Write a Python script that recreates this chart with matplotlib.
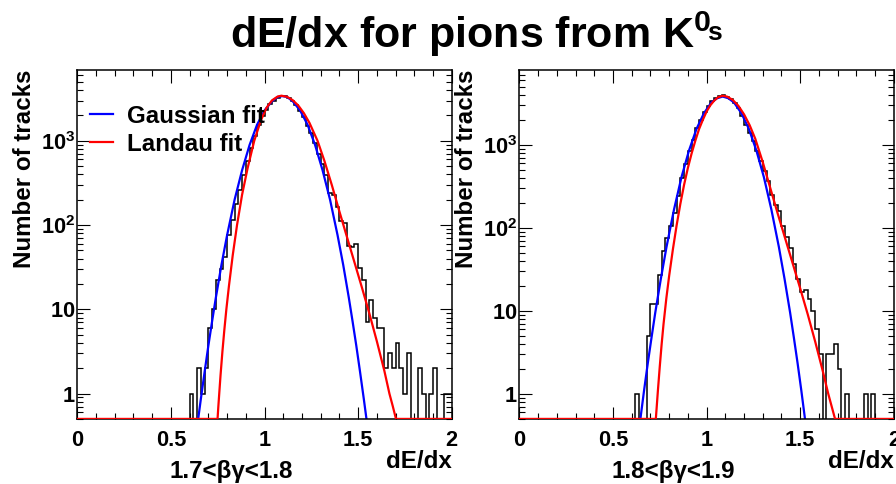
import numpy as np
import matplotlib
matplotlib.use("Agg")
import matplotlib.pyplot as plt
from matplotlib.ticker import MultipleLocator, LogLocator, NullFormatter

plt.rcParams["font.family"] = ["Liberation Sans", "DejaVu Sans"]
plt.rcParams["font.weight"] = "bold"
plt.rcParams["mathtext.fontset"] = "custom"
plt.rcParams["mathtext.rm"] = "Liberation Sans:bold"
plt.rcParams["mathtext.it"] = "Liberation Sans:bold"
plt.rcParams["mathtext.bf"] = "Liberation Sans:bold"

TITLE_MAIN = "dE/dx for pions from K$^{0}$"
TITLE_SUB = "s"
BIN_WIDTH = 0.02
N_BINS = 100
X_TICKS = [0, 0.5, 1, 1.5, 2]
X_TICK_LABELS = ["0", "0.5", "1", "1.5", "2"]
Y_TICKS = [1, 10, 100, 1000]
# trailing space keeps the plain labels in line with the "10" of 10^2, 10^3
Y_TICK_LABELS = [r"$1\;\,$", r"$10\;\,$", r"$10^{2}$", r"$10^{3}$"]
Y_MIN = 0.5

# ---- left panel: 1.7 < beta*gamma < 1.8 ----
left_label = "1.7<βγ<1.8"
left_ymax = 6918
left_first_bin = 0.60
left_counts = [1, 0, 2, 1, 2, 6, 10, 22, 30, 42,
               76, 115, 180, 260, 390, 580, 820, 1150, 1550, 1950,
               2350, 2700, 3000, 3250, 3400, 3380, 3200, 2950, 2650, 2250,
               1930, 1500, 1230, 940, 700, 530, 395, 240, 230, 165,
               112, 105, 56, 55, 60, 31, 22, 7, 13, 8,
               6, 6, 2, 3, 2, 4, 2, 1, 3, 0,
               0, 2, 1, 0, 1, 2, 0, 0, 1, 1]
# fit curves: dE/dx and log10(tracks)
left_gaus_x = [0.645, 0.66, 0.68, 0.70, 0.72, 0.74, 0.77, 0.80, 0.84, 0.88, 0.92,
               0.96, 1.00, 1.04, 1.07, 1.095, 1.12, 1.15, 1.19, 1.23, 1.27, 1.31,
               1.35, 1.39, 1.42, 1.45, 1.47, 1.49, 1.51, 1.53, 1.545]
left_gaus_log = [-0.31, -0.06, 0.26, 0.57, 0.86, 1.14, 1.53, 1.88, 2.30, 2.65, 2.95,
                 3.19, 3.36, 3.47, 3.52, 3.53, 3.52, 3.47, 3.36, 3.19, 2.95, 2.65,
                 2.30, 1.88, 1.53, 1.14, 0.86, 0.57, 0.26, -0.06, -0.31]
left_landau_x = [0.0, 0.749, 0.753, 0.758, 0.765, 0.775, 0.785, 0.796, 0.81, 0.83,
                 0.853, 0.88, 0.91, 0.945, 0.98, 1.01, 1.04, 1.07, 1.09, 1.12,
                 1.15, 1.18, 1.21, 1.24, 1.283, 1.32, 1.36, 1.40, 1.44, 1.48,
                 1.52, 1.56, 1.60, 1.64, 1.667, 1.685, 1.702, 2.0]
left_landau_log = [-0.3, -0.3, -0.16, 0.0, 0.22, 0.5, 0.75, 1.0, 1.28, 1.64,
                   2.0, 2.36, 2.68, 3.0, 3.24, 3.39, 3.48, 3.525, 3.535, 3.522,
                   3.483, 3.419, 3.328, 3.212, 3.0, 2.76, 2.47, 2.16, 1.86, 1.56,
                   1.26, 0.95, 0.62, 0.27, 0.0, -0.15, -0.3, -0.3]

# ---- right panel: 1.8 < beta*gamma < 1.9 ----
right_label = "1.8<βγ<1.9"
right_ymax = 7943
right_first_bin = 0.62
right_counts = [1, 0, 0, 5, 12, 12, 27, 52, 75, 104,
                150, 240, 400, 580, 840, 1150, 1570, 2000, 2500, 2900,
                3350, 3650, 3850, 3950, 3800, 3550, 3200, 2760, 2190, 1740,
                1383, 1097, 832, 631, 478, 363, 251, 190, 158, 104,
                77, 57, 37, 24, 17, 18, 14, 10, 6, 3,
                0, 3, 3, 4, 2, 0, 1, 0, 0, 0,
                0, 1, 0, 1]
right_gaus_x = [0.646, 0.666, 0.686, 0.706, 0.726, 0.756, 0.786, 0.826, 0.866, 0.906,
                0.946, 0.986, 1.026, 1.056, 1.086, 1.116, 1.146, 1.186, 1.226, 1.266,
                1.306, 1.346, 1.386, 1.416, 1.446, 1.466, 1.486, 1.506, 1.526]
right_gaus_log = [-0.31, 0.04, 0.37, 0.68, 0.98, 1.39, 1.77, 2.22, 2.61, 2.93,
                  3.19, 3.38, 3.51, 3.56, 3.58, 3.56, 3.51, 3.38, 3.19, 2.93,
                  2.61, 2.22, 1.77, 1.39, 0.98, 0.68, 0.37, 0.04, -0.31]
right_landau_x = [0.0, 0.729, 0.74, 0.75, 0.76, 0.77, 0.785, 0.80, 0.82, 0.84,
                  0.86, 0.88, 0.90, 0.92, 0.94, 0.96, 0.98, 1.00, 1.02, 1.04,
                  1.06, 1.085, 1.11, 1.14, 1.17, 1.20, 1.23, 1.26, 1.30, 1.34,
                  1.38, 1.42, 1.46, 1.50, 1.54, 1.58, 1.62, 1.65, 1.668, 1.686, 2.0]
right_landau_log = [-0.3, -0.3, 0.04, 0.33, 0.60, 0.84, 1.15, 1.42, 1.74, 2.03,
                    2.29, 2.52, 2.72, 2.895, 3.05, 3.19, 3.30, 3.40, 3.475, 3.53,
                    3.57, 3.59, 3.579, 3.539, 3.468, 3.366, 3.235, 3.072, 2.79, 2.48,
                    2.17, 1.87, 1.57, 1.27, 0.96, 0.63, 0.28, 0.0, -0.15, -0.3, -0.3]

TICK_SIZE = 15.7
LABEL_SIZE = 17.4
FIG_W, FIG_H = 896, 484


def draw_panel(ax, first_bin, counts, gaus_x, gaus_log, landau_x, landau_log, ymax):
    edges = np.arange(N_BINS + 1) * BIN_WIDTH
    full = np.zeros(N_BINS)
    i0 = int(round(first_bin / BIN_WIDTH))
    full[i0:i0 + len(counts)] = counts
    shown = np.where(full > 0, full, 1e-3)  # empty bins drop out of the frame
    ax.stairs(shown, edges, baseline=None, color="black", lw=1.1)
    gaus, = ax.plot(gaus_x, 10 ** np.array(gaus_log), color="#0000ff", lw=1.6)
    landau, = ax.plot(landau_x, 10 ** np.array(landau_log), color="#ff0000", lw=1.6,
                      zorder=3)

    ax.set_yscale("log")
    ax.set_xlim(0, 2)
    ax.set_ylim(Y_MIN, ymax)
    ax.set_xticks(X_TICKS, X_TICK_LABELS)
    ax.xaxis.set_minor_locator(MultipleLocator(0.1))
    ax.set_yticks(Y_TICKS, Y_TICK_LABELS)
    ax.yaxis.set_minor_locator(LogLocator(base=10, subs=np.arange(2, 10)))
    ax.yaxis.set_minor_formatter(NullFormatter())
    ax.tick_params(which="both", direction="in", top=True, right=True,
                   labelsize=TICK_SIZE, width=0.8, color="black")
    ax.tick_params(which="major", length=9)
    ax.tick_params(which="minor", length=4.5)
    ax.tick_params(axis="x", which="major", pad=8)
    ax.tick_params(axis="y", which="major", pad=1.5)
    for s in ax.spines.values():
        s.set_linewidth(1.1)

    ax.text(-53 / 374.4, 1.0, "Number of tracks", rotation=90, ha="center", va="top",
            transform=ax.transAxes, fontsize=LABEL_SIZE)
    ax.text(1.0, -0.14, "dE/dx", ha="right", va="baseline",
            transform=ax.transAxes, fontsize=LABEL_SIZE)
    return gaus, landau


fig = plt.figure(figsize=(FIG_W / 100, FIG_H / 100), dpi=100)
ax_l = fig.add_axes([0.0863, 0.1343, 0.4179, 0.7211])
ax_r = fig.add_axes([0.5796, 0.1343, 0.4180, 0.7211])

g, l = draw_panel(ax_l, left_first_bin, left_counts, left_gaus_x, left_gaus_log,
                  left_landau_x, left_landau_log, left_ymax)
draw_panel(ax_r, right_first_bin, right_counts, right_gaus_x, right_gaus_log,
           right_landau_x, right_landau_log, right_ymax)

ax_l.legend([g, l], ["Gaussian fit", "Landau fit"], loc="upper left",
            bbox_to_anchor=(0.035, 0.90), frameon=False, fontsize=LABEL_SIZE,
            handlelength=0.95, handletextpad=0.55, labelspacing=0.2,
            borderpad=0, borderaxespad=0)

# title: K^0 with a small "s" set beside the superscript, ROOT style
title_base = (FIG_H - 48) / FIG_H
t_main = fig.text(0, title_base, TITLE_MAIN, ha="left", va="baseline", fontsize=31)
t_sub = fig.text(0, title_base + 8 / FIG_H, TITLE_SUB, ha="left", va="baseline",
                 fontsize=19)
renderer = fig.canvas.get_renderer()
w_main = t_main.get_window_extent(renderer).width
w_sub = t_sub.get_window_extent(renderer).width
gap = -4
x0 = 476 - (w_main + gap + w_sub) / 2
t_main.set_x(x0 / FIG_W)
t_sub.set_x((x0 + w_main + gap) / FIG_W)

fig.text(231 / FIG_W, 0.012, left_label, ha="center", va="baseline", fontsize=LABEL_SIZE)
fig.text(673 / FIG_W, 0.012, right_label, ha="center", va="baseline", fontsize=LABEL_SIZE)

fig.savefig("out.png", dpi=100, facecolor="white")
